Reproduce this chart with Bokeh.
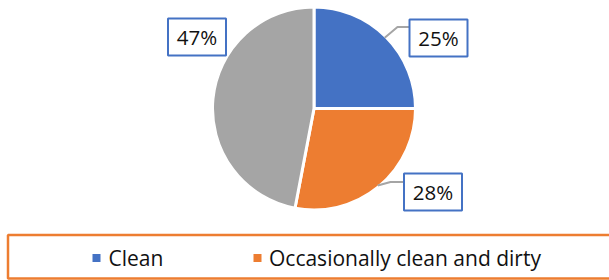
import numpy as np
from bokeh.plotting import figure
from bokeh.models import Range1d, ColumnDataSource
from bokeh.core.properties import value
from bokeh.embed import file_html
from bokeh.resources import INLINE

# ---- data ----
categories = ["Clean", "Occasionally clean and dirty", "Dirty"]
values = [25, 28, 47]
pct_labels = ["25%", "28%", "47%"]
colors = ["#4472C4", "#ED7D31", "#A5A5A5"]

# ---- layout (page pixel coordinates) ----
W, H = 609, 280

def Y(py):
    return H - py

cx, cy, r = 313.5, 108.0, 101.5
label_centers = [(438.0, 37.5), (432.5, 191.5), (196.5, 36.5)]
box_w, box_h = 58, 37
leader_elbows = [(397.0, 26.5), (390.0, 181.5), None]
legend_sq_x = [96.0, 257.0]
legend_tx_x = [108.0, 268.5]
legend_y = 257.5

p = figure(width=W, height=H, x_range=Range1d(0, W), y_range=Range1d(0, H),
           output_backend="svg", toolbar_location=None, min_border=0,
           x_axis_location=None, y_axis_location=None)
p.grid.visible = False
p.outline_line_color = None
p.background_fill_color = "white"
p.border_fill_color = "white"

# ---- pie ----
vals = np.array(values, dtype=float)
fr = vals / vals.sum()
before = np.concatenate([[0.0], np.cumsum(fr)[:-1]])
starts = np.pi / 2 - 2 * np.pi * before
ends = starts - 2 * np.pi * fr
src = ColumnDataSource(dict(start=starts, end=ends, color=colors, cat=categories))
p.wedge(x=cx, y=Y(cy), radius=r, start_angle="start", end_angle="end",
        direction="clock", fill_color="color", line_color="white", line_width=3,
        source=src)

# ---- leader lines ----
mids = (starts + ends) / 2
rv = 100.0
for i, elbow in enumerate(leader_elbows):
    if elbow is None:
        continue
    ax = cx + rv * np.cos(mids[i])
    ay = Y(cy) + rv * np.sin(mids[i])
    bx = label_centers[i][0] - box_w / 2
    p.line([ax, elbow[0], bx], [ay, Y(elbow[1]), Y(elbow[1])],
           line_color="#A5A5A5", line_width=2)

# ---- label boxes ----
lx = [c[0] for c in label_centers]
ly = [Y(c[1]) for c in label_centers]
p.rect(x=lx, y=ly, width=box_w, height=box_h, fill_color="white",
       line_color="#4472C4", line_width=2)
p.text(x=lx, y=ly, text=pct_labels, text_align="center", text_baseline="middle",
       text_font=value("Open Sans"), text_font_size="20.5px", text_color="#111111")

# ---- legend ----
p.quad(left=7.5, right=W + 50, top=Y(234.5), bottom=Y(278),
       fill_color=None, line_color="#ED7D31", line_width=2.5)
p.rect(x=legend_sq_x, y=Y(legend_y), width=8, height=8,
       fill_color=colors[:2], line_color=None)
p.text(x=legend_tx_x, y=Y(legend_y), text=categories[:2], text_baseline="middle",
       text_font=value("Open Sans"), text_font_size="21px", text_color="#111111")

open("out.html", "w").write(file_html(p, INLINE))
